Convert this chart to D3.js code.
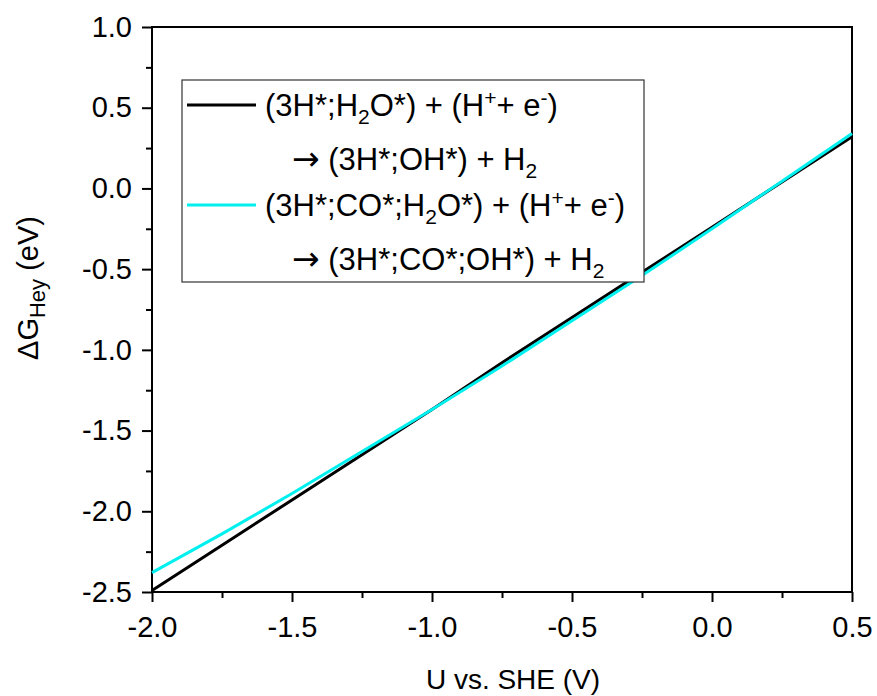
<!DOCTYPE html>
<html>
<head>
<meta charset="UTF-8">
<script src="https://d3js.org/d3.v7.min.js"></script>
<style>
  body { margin: 0; background: #fff; }
  svg text { font-family: "Liberation Sans", Arial, sans-serif; fill: #000; }
</style>
</head>
<body>
<div id="chart"></div>
<script>
// potential U vs. SHE (V)
const uValues = [-2.0, -1.75, -1.5, -1.25, -1.0, -0.75, -0.5, -0.25, 0.0, 0.25, 0.5];
// (3H*;H2O*) -> (3H*;OH*)
const gWater = [-2.49, -2.21, -1.93, -1.65, -1.37, -1.08, -0.80, -0.52, -0.24, 0.04, 0.32];
// (3H*;CO*;H2O*) -> (3H*;CO*;OH*)
const gWaterCO = [-2.38, -2.14, -1.89, -1.63, -1.37, -1.10, -0.82, -0.54, -0.25, 0.045, 0.34];

const xMajor = [-2.0, -1.5, -1.0, -0.5, 0.0, 0.5];
const xMinor = [-1.75, -1.25, -0.75, -0.25, 0.25];
const yMajor = [1.0, 0.5, 0.0, -0.5, -1.0, -1.5, -2.0, -2.5];
const yMinor = [0.75, 0.25, -0.25, -0.75, -1.25, -1.75, -2.25];

const W = 877, H = 696;
const margin = {top: 27, right: 25, bottom: 104, left: 152};
const width = W - margin.left - margin.right;
const height = H - margin.top - margin.bottom;

const svg = d3.select("#chart").append("svg")
    .attr("width", W).attr("height", H);
const g = svg.append("g")
    .attr("transform", "translate(" + margin.left + "," + margin.top + ")");

const x = d3.scaleLinear().domain([-2.0, 0.5]).range([0, width]);
const y = d3.scaleLinear().domain([-2.5, 1.0]).range([height, 0]);

const fmt = d => d3.format(".1f")(d).replace("−", "-");
const tickFont = 29;

// frame
g.append("rect")
    .attr("width", width).attr("height", height)
    .attr("fill", "none").attr("stroke", "#000").attr("stroke-width", 2);

function styleAxis(sel) {
    sel.select(".domain").remove();
    sel.selectAll(".tick line").attr("stroke", "#000").attr("stroke-width", 2);
    sel.selectAll(".tick text").style("font-size", tickFont + "px");
}

g.append("g").attr("transform", "translate(0," + height + ")")
    .call(d3.axisBottom(x).tickValues(xMajor).tickSize(10).tickPadding(14).tickFormat(fmt))
    .call(styleAxis);
g.append("g").attr("transform", "translate(0," + height + ")")
    .call(d3.axisBottom(x).tickValues(xMinor).tickSize(6).tickFormat(""))
    .call(styleAxis);
g.append("g")
    .call(d3.axisLeft(y).tickValues(yMajor).tickSize(10).tickPadding(10).tickFormat(fmt))
    .call(styleAxis);
g.append("g")
    .call(d3.axisLeft(y).tickValues(yMinor).tickSize(6).tickFormat(""))
    .call(styleAxis);

// series
const line = d3.line().x(d => x(d[0])).y(d => y(d[1]));
const series = [
    {vals: gWater, color: "#000000"},
    {vals: gWaterCO, color: "#00f0f0"}
];
series.forEach(s => {
    g.append("path")
        .datum(uValues.map((u, i) => [u, s.vals[i]]))
        .attr("fill", "none")
        .attr("stroke", s.color)
        .attr("stroke-width", 3)
        .attr("d", line);
});

// axis titles
svg.append("text")
    .attr("x", 513).attr("y", 689)
    .attr("text-anchor", "middle")
    .style("font-size", "28px")
    .text("U vs. SHE (V)");

const yt = svg.append("text")
    .attr("transform", "translate(38,288) rotate(-90)")
    .attr("text-anchor", "middle")
    .style("font-size", "29px");
yt.append("tspan").text("ΔG");
yt.append("tspan").attr("dy", 7).style("font-size", "22px").text("Hey");
yt.append("tspan").attr("dy", -7).text(" (eV)");

// legend
const leg = svg.append("g");
leg.append("rect")
    .attr("x", 182).attr("y", 80).attr("width", 462).attr("height", 202)
    .attr("fill", "#fff").attr("stroke", "#333").attr("stroke-width", 1.2);

const legFont = 31;
function addText(xp, yc, parts) {
    const t = leg.append("text")
        .attr("x", xp).attr("y", yc + legFont * 0.35)
        .style("font-size", legFont + "px");
    let shift = 0;
    parts.forEach(p => {
        let target = 0, size = legFont;
        if (p.sub) { target = 8; size = 21; }
        if (p.sup) { target = -11; size = 21; }
        const ts = t.append("tspan")
            .attr("dy", target - shift)
            .style("font-size", size + "px")
            .text(p.t);
        if (p.arrow) ts.style("font-family", "DejaVu Sans").style("font-size", "33px");
        shift = target;
    });
}

const legendRows = [
    {color: "#000000", yc: 105, lines: [
        [{t: "(3H*;H"}, {t: "2", sub: true}, {t: "O*) + (H"}, {t: "+", sup: true}, {t: "+ e"}, {t: "-", sup: true}, {t: ")"}],
        [{t: "→", arrow: true}, {t: " (3H*;OH*) + H"}, {t: "2", sub: true}]
    ]},
    {color: "#00f0f0", yc: 205, lines: [
        [{t: "(3H*;CO*;H"}, {t: "2", sub: true}, {t: "O*) + (H"}, {t: "+", sup: true}, {t: "+ e"}, {t: "-", sup: true}, {t: ")"}],
        [{t: "→", arrow: true}, {t: " (3H*;CO*;OH*) + H"}, {t: "2", sub: true}]
    ]}
];
legendRows.forEach(r => {
    leg.append("line")
        .attr("x1", 187).attr("x2", 256)
        .attr("y1", r.yc).attr("y2", r.yc)
        .attr("stroke", r.color).attr("stroke-width", 3);
    addText(265, r.yc, r.lines[0]);
    addText(292, r.yc + 54, r.lines[1]);
});
</script>
</body>
</html>
